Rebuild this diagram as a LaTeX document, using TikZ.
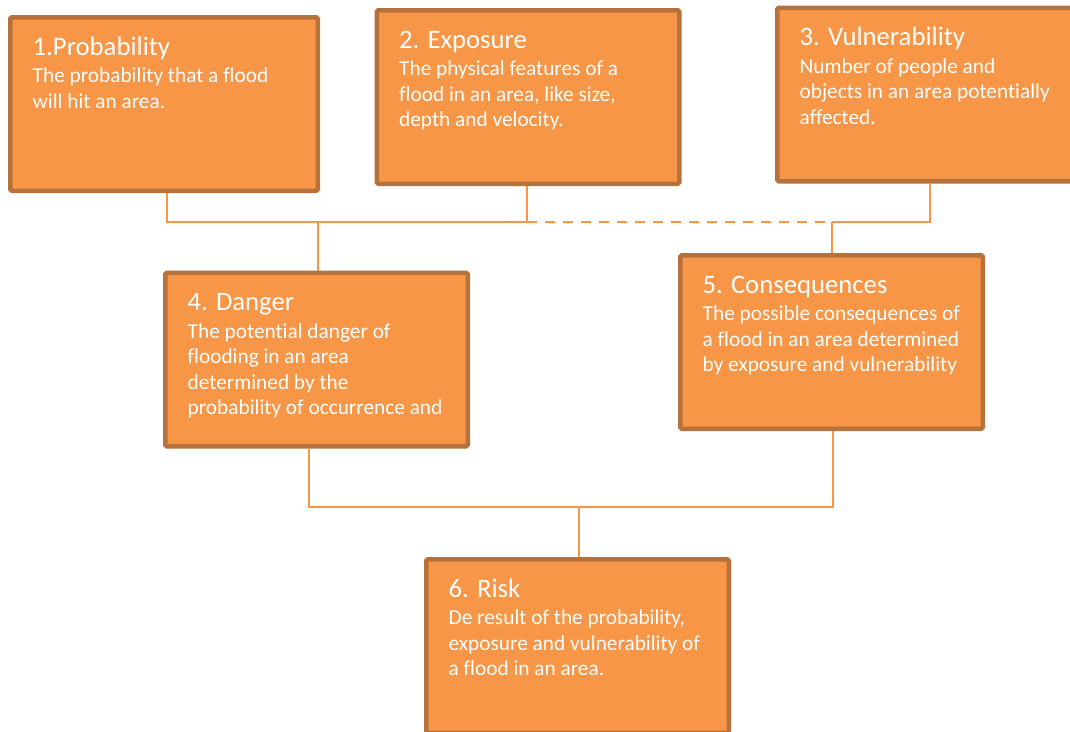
\documentclass[tikz,border=0pt]{standalone}
\usepackage{fontspec}
\setmainfont{Carlito}[Ligatures=NoCommon]
\usetikzlibrary{calc,backgrounds}
\definecolor{fillc}{HTML}{F79646}
\definecolor{edgec}{HTML}{B7713A}
\definecolor{linec}{HTML}{F79646}
\begin{document}
\begin{tikzpicture}[x=1pt,y=-1pt]
\tikzset{
 box/.style={draw=edgec, fill=fillc, line width=4.5pt, minimum width=302.5pt, minimum height=173.5pt, inner sep=0pt, rounded corners=1.5pt},
 ttl/.style={anchor=base west, inner sep=0pt, text=white, font=\fontsize{26.7}{30}\selectfont},
 bdy/.style={anchor=base west, inner sep=0pt, text=white, font=\fontsize{21.3}{25.6}\selectfont},
 conn/.style={draw=linec, line width=2.6pt},
 dconn/.style={conn, dash pattern=on 10pt off 8pt}
}
\path[use as bounding box] (0,0) rectangle (1070,731);
\clip (0,0) rectangle (1070,731);

\node[box, minimum width=307.5pt] (b1) at (164,104) {};
\node[box] (b2) at (528,97) {};
\node[box] (b3) at (928.5,94.5) {};
\node[box] (b4) at (316.5,359.5) {};
\node[box] (b5) at (831.5,342) {};
\node[box] (b6) at (577.5,646) {};

\foreach \b/\t/\l in {
 b1/{1.Probability}/{\hbox{The probability that a flood}\hbox{will hit an area.}},
 b2/{2. Exposure}/{\hbox{The physical features of a}\hbox{flood in an area, like size,}\hbox{depth and velocity.}},
 b3/{3. Vulnerability}/{\hbox{Number of people and}\hbox{objects in an area potentially}\hbox{affected.}},
 b4/{4. Danger}/{\hbox{The potential danger of}\hbox{flooding in an area}\hbox{determined by the}\hbox{probability of occurrence and}},
 b5/{5. Consequences}/{\hbox{The possible consequences of}\hbox{a flood in an area determined}\hbox{by exposure and vulnerability}},
 b6/{6. Risk}/{\hbox{De result of the probability,}\hbox{exposure and vulnerability of}\hbox{a flood in an area.}}
}{
 \node[ttl] (\b t) at ($(\b.north west)+(24.5,40)$) {\t};
 \node[bdy] (\b d) at ($(\b.north west)+(24.5,67.5)$) {\vtop{\l}};
}

\coordinate (ja) at (167,222);
\coordinate (jb) at (527,222);
\coordinate (jc) at (832,222);
\coordinate (jd) at (930,222);
\coordinate (je) at (318,222);
\coordinate (jf) at (309,507);
\coordinate (jg) at (833,507);
\coordinate (jh) at (579,507);

\begin{scope}[on background layer]
\draw[conn] (b1.south -| ja) -- (ja) -- (jb) -- (b2.south -| jb);
\draw[dconn] (jb) -- (jc);
\draw[conn] (jc) -- (jd) -- (b3.south -| jd);
\draw[conn] (je) -- (b4.north -| je);
\draw[conn] (jc) -- (b5.north -| jc);
\draw[conn] (b4.south -| jf) -- (jf) -- (jg) -- (b5.south -| jg);
\draw[conn] (jh) -- (b6.north -| jh);
\end{scope}
\end{tikzpicture}
\end{document}
